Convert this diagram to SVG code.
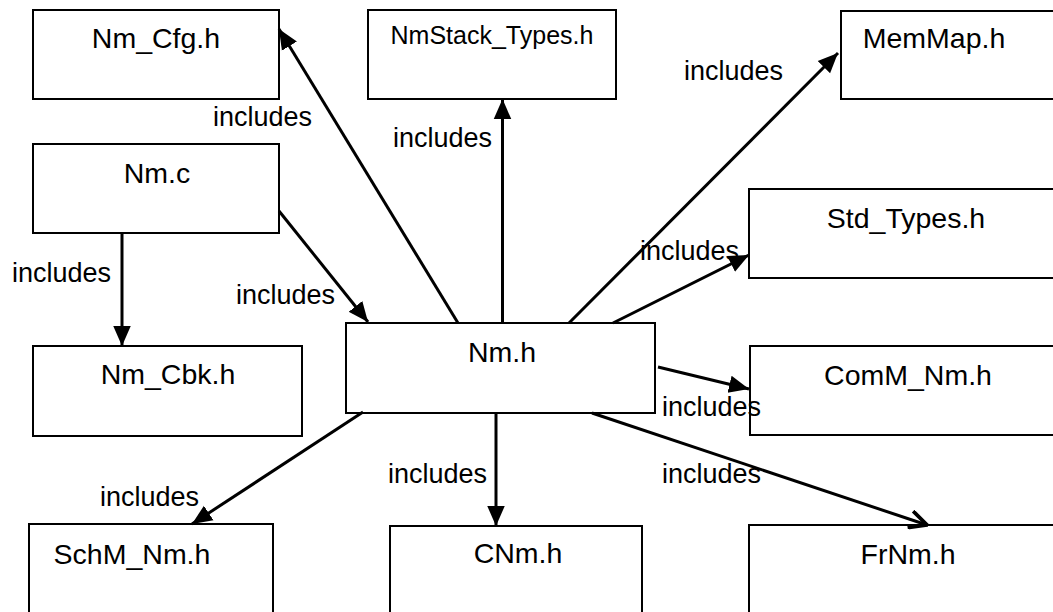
<svg xmlns="http://www.w3.org/2000/svg" width="1053" height="612" viewBox="0 0 1053 612">
<defs>
<style>
.box{fill:#fff;stroke:#000;stroke-width:2}
.lbl{font-family:"Liberation Sans",Arial,sans-serif;font-size:28.5px;fill:#000;text-anchor:middle}
.small{font-size:25px}
.inc{font-family:"Liberation Sans",Arial,sans-serif;font-size:27px;fill:#000}
.con{stroke:#000;stroke-width:3;fill:none}
</style>
<marker id="fill" markerUnits="userSpaceOnUse" markerWidth="20" markerHeight="20" viewBox="0 0 16 16" refX="16" refY="8" orient="auto">
<path d="M0,1 L16,8 L0,15 Z" fill="#000"/>
</marker>
<marker id="open" markerUnits="userSpaceOnUse" markerWidth="20" markerHeight="20" viewBox="0 0 16 16" refX="15" refY="8" orient="auto">
<path d="M1,1 L15,8 L1,15" fill="none" stroke="#000" stroke-width="3"/>
</marker>
</defs>
<rect width="1053" height="612" fill="#fff"/>
<g id="Nm_Cfg"><rect class="box" x="33" y="10" width="246" height="89"/><text class="lbl" x="156" y="48">Nm_Cfg.h</text></g>
<g id="NmStack_Types"><rect class="box" x="368" y="10" width="248" height="89"/><text class="lbl small" x="492" y="44">NmStack_Types.h</text></g>
<g id="MemMap"><rect class="box" x="841" y="11" width="230" height="88"/><text class="lbl" x="934" y="48">MemMap.h</text></g>
<g id="Nm_c"><rect class="box" x="33" y="144" width="246" height="89"/><text class="lbl" x="157" y="183">Nm.c</text></g>
<g id="Std_Types"><rect class="box" x="749" y="189" width="320" height="89"/><text class="lbl" x="906" y="228">Std_Types.h</text></g>
<g id="Nm_Cbk"><rect class="box" x="33" y="346" width="269" height="90"/><text class="lbl" x="168" y="384">Nm_Cbk.h</text></g>
<g id="Nm_h"><rect class="box" x="346" y="323" width="309" height="90"/><text class="lbl" x="502" y="362">Nm.h</text></g>
<g id="ComM_Nm"><rect class="box" x="750" y="346" width="320" height="89"/><text class="lbl" x="908" y="385">ComM_Nm.h</text></g>
<g id="SchM_Nm"><rect class="box" x="29" y="524" width="244" height="100"/><text class="lbl" x="132" y="564">SchM_Nm.h</text></g>
<g id="CNm"><rect class="box" x="390" y="526" width="252" height="100"/><text class="lbl" x="518" y="563">CNm.h</text></g>
<g id="FrNm"><rect class="box" x="749" y="525" width="320" height="100"/><text class="lbl" x="908" y="564">FrNm.h</text></g>
<g id="connectors">
<line class="con" x1="458" y1="323" x2="279" y2="29" marker-end="url(#fill)"/>
<line class="con" x1="502.5" y1="323" x2="502.5" y2="99" marker-end="url(#fill)"/>
<line class="con" x1="569" y1="323" x2="838" y2="53" marker-end="url(#fill)"/>
<line class="con" x1="613" y1="323" x2="749" y2="255" marker-end="url(#fill)"/>
<line class="con" x1="658" y1="367" x2="749" y2="389" marker-end="url(#fill)"/>
<line class="con" x1="592" y1="413" x2="927" y2="525" marker-end="url(#open)"/>
<line class="con" x1="496" y1="413" x2="496" y2="526" marker-end="url(#fill)"/>
<line class="con" x1="363" y1="412" x2="192" y2="524" marker-end="url(#fill)"/>
<line class="con" x1="122" y1="233" x2="122" y2="346" marker-end="url(#fill)"/>
<line class="con" x1="279" y1="211" x2="368" y2="322" marker-end="url(#fill)"/>
</g>
<g id="labels">
<text class="inc" x="213" y="126">includes</text>
<text class="inc" x="393" y="147">includes</text>
<text class="inc" x="684" y="80">includes</text>
<text class="inc" x="640" y="260">includes</text>
<text class="inc" x="12" y="282">includes</text>
<text class="inc" x="236" y="304">includes</text>
<text class="inc" x="662" y="416">includes</text>
<text class="inc" x="662" y="483">includes</text>
<text class="inc" x="388" y="483">includes</text>
<text class="inc" x="100" y="506">includes</text>
</g>
</svg>
